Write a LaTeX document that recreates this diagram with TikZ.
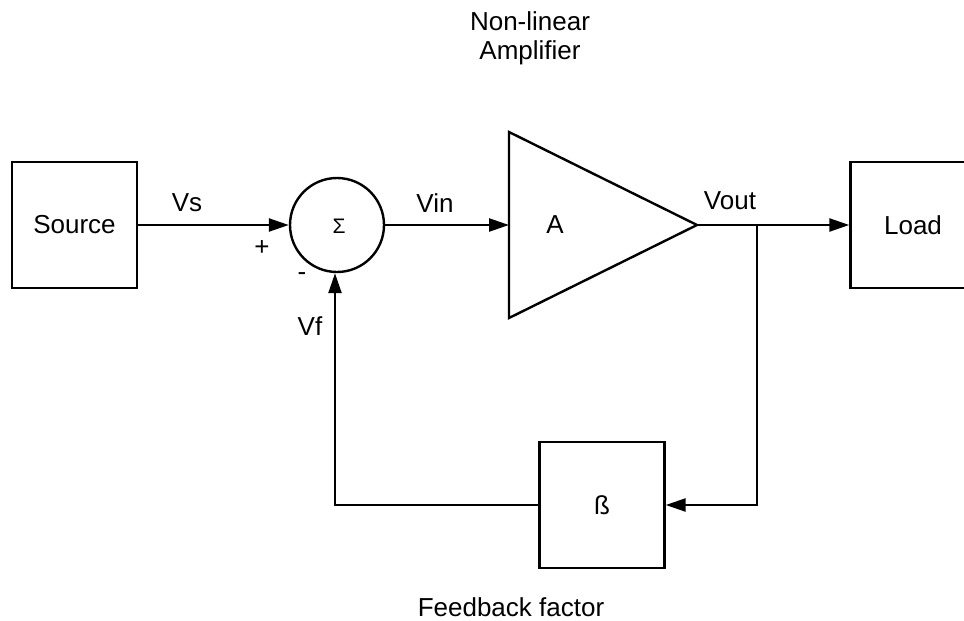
\documentclass[tikz,border=0pt]{standalone}
\usepackage{fontspec}
\setmainfont{Liberation Sans}
\usetikzlibrary{arrows.meta}
\begin{document}
\begin{tikzpicture}[x=0.5pt,y=-0.5pt,
  every node/.style={font=\fontsize{13}{14.5}\selectfont, inner sep=0pt},
  blk/.style={draw, line width=1.2pt, minimum width=62.5pt, minimum height=63pt},
  wire/.style={line width=1.2pt},
  sig/.style={wire, -{Triangle[length=10pt,width=6.5pt]}}]
\useasboundingbox (0,0) rectangle (964,621);
\clip (0,0) rectangle (964,621);
\fill[white] (0,0) rectangle (964,621);
% blocks
\node[blk] (src) at (74.5,225) {Source};
\node[draw, circle, line width=1.2pt, minimum size=47pt] (sum) at (337,225) {};
\node[font=\fontsize{10.5}{12}\selectfont] (sigma) at (339,226) {Σ};
\coordinate (ampin) at (509,225);
\coordinate (ampout) at (697,225);
\draw[wire, line join=miter] (509,132) -- (ampout) -- (509,318) -- cycle;
\node (A) at (555,225) {A};
\node[blk] (load) at (913,225) {Load};
\node[blk] (beta) at (602,505) {ß};
\coordinate (jn) at (757,225);
\coordinate (rc) at (757,505);
\coordinate (lc) at (335,505);
% connectors
\draw[sig] (src.east) -- (sum.west);
\draw[sig] (sum.east) -- (ampin);
\draw[sig] (ampout) -- (load.west);
\draw[sig] (jn) -- (rc) -- (beta.east);
\draw[sig] (beta.west) -- (lc) -- (lc |- sum.south);
% labels
\node (vs) at (187,203) {Vs};
\node (plus) at (262,248) {+};
\node (minus) at (302,277) {-};
\node (vf) at (310,326) {Vf};
\node (vin) at (435,203) {Vin};
\node (vout) at (730,201) {Vout};
\node[align=center] (nla) at (530,38) {Non-linear\\Amplifier};
\node (fbf) at (511,607) {Feedback factor};
\end{tikzpicture}
\end{document}
